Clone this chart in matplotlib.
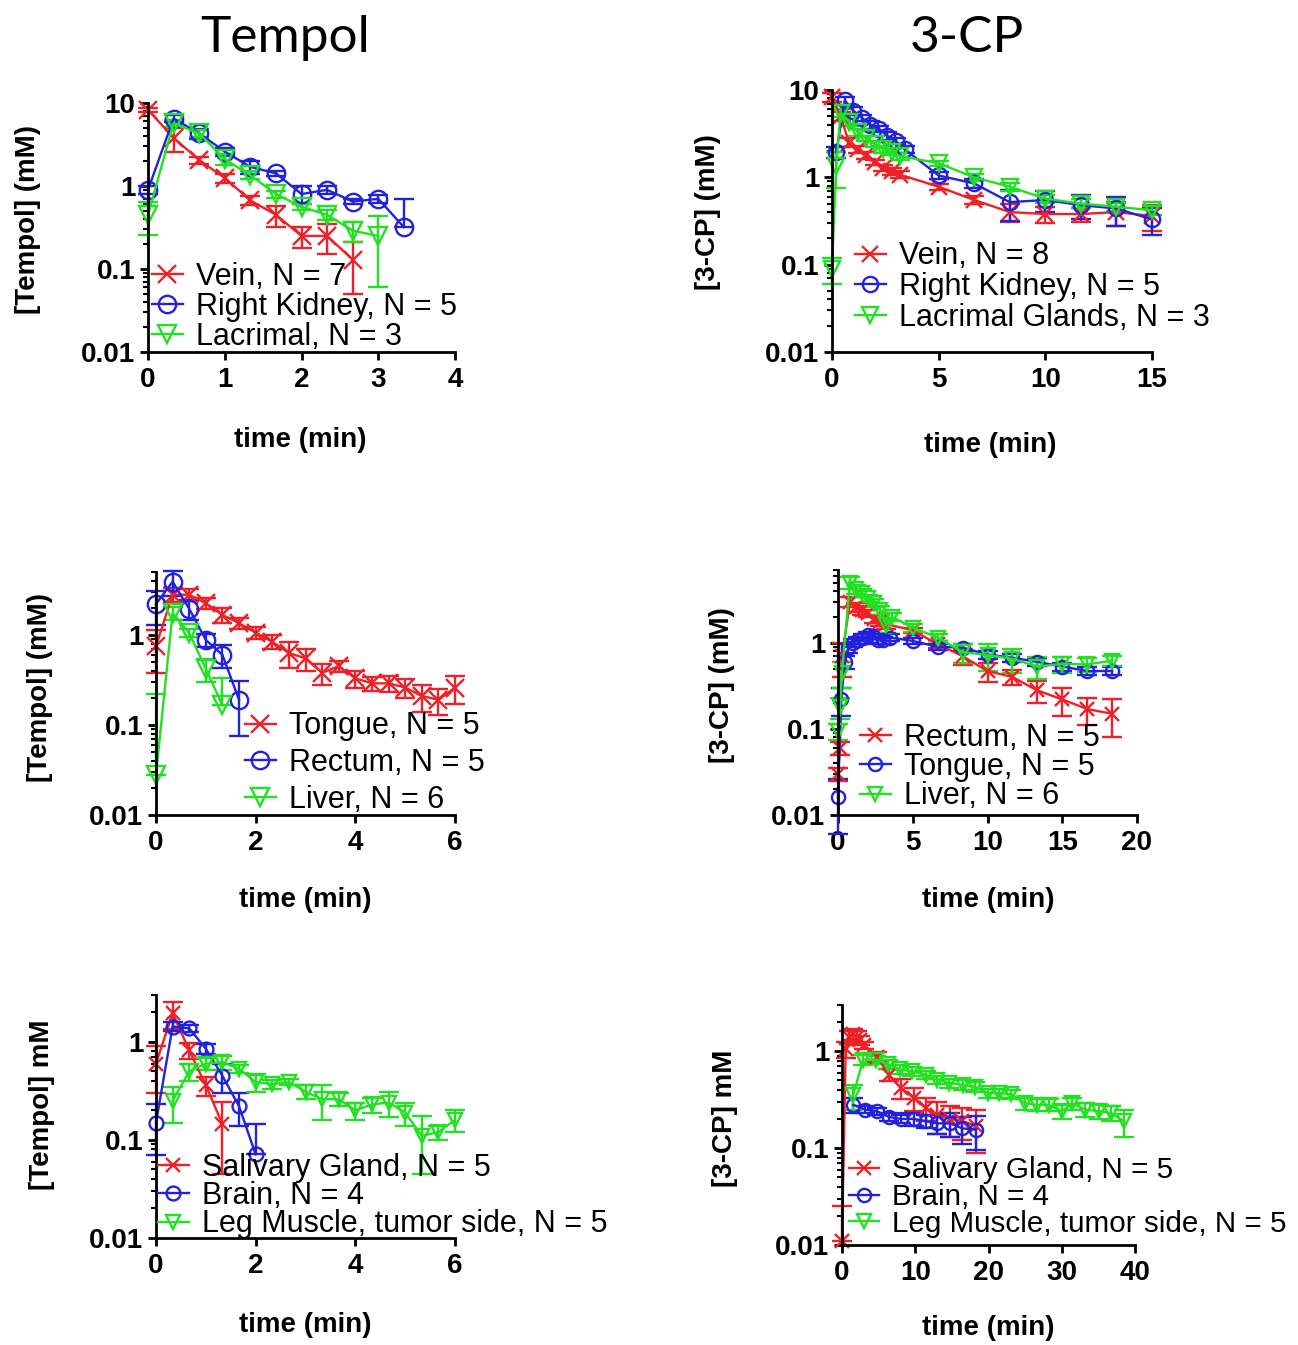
import matplotlib
matplotlib.use('Agg')
import matplotlib.pyplot as plt
import numpy as np
from matplotlib.ticker import FixedLocator, LogLocator, NullFormatter, FuncFormatter

# ---------------- data ----------------
# Tempol, top panel (20 s sampling)
t_tempol_top = [0, 0.333, 0.667, 1.0, 1.333, 1.667, 2.0, 2.333, 2.667, 3.0, 3.333]
vein_tempol = [8.3, 3.8, 2.05, 1.25, 0.67, 0.45, 0.25, 0.25, 0.13]
vein_tempol_sd = [0.5, 1.2, 0.2, 0.15, 0.08, 0.13, 0.07, 0.1, 0.08]
kidney_tempol = [0.9, 6.5, 4.3, 2.6, 1.7, 1.42, 0.8, 0.9, 0.65, 0.7, 0.32]
kidney_tempol_sd = [0.1, 0.6, 0.6, 0.3, 0.3, 0.1, 0.2, 0.1, 0.05, 0.08, 0.37]
lacrimal_tempol = [0.45, 5.7, 4.3, 2.1, 1.35, 0.8, 0.56, 0.45, 0.29, 0.25]
lacrimal_tempol_sd = [0.19, 0.5, 0.4, 0.3, 0.15, 0.08, 0.05, 0.06, 0.08, 0.19]

# 3-CP, top panel
t_vein_3cp = [0, 0.4, 0.8, 1.2, 1.6, 2.0, 2.4, 2.8, 3.2, 5, 6.67, 8.33, 10, 11.67, 13.33, 15]
vein_3cp = [8.3, 5.0, 2.5, 2.1, 1.78, 1.5, 1.28, 1.17, 1.07, 0.78, 0.55, 0.4, 0.38, 0.38, 0.4, 0.36]
vein_3cp_sd = [1.0, 0.6, 0.3, 0.2, 0.15, 0.1, 0.1, 0.1, 0.1, 0.06, 0.06, 0.09, 0.08, 0.07, 0.12, 0.12]
t_kidney_3cp = [0.2, 0.6, 1.0, 1.4, 1.8, 2.2, 2.6, 3.0, 3.4, 5, 6.67, 8.33, 10, 11.67, 13.33, 15]
kidney_3cp = [1.95, 7.6, 5.8, 4.8, 4.0, 3.6, 3.0, 2.6, 2.1, 1.05, 0.85, 0.52, 0.55, 0.48, 0.44, 0.33]
kidney_3cp_sd = [0.3, 0.8, 0.6, 0.4, 0.4, 0.3, 0.3, 0.2, 0.2, 0.1, 0.1, 0.2, 0.15, 0.15, 0.16, 0.11]
t_lacrimal_3cp = [0, 0.2, 0.4, 0.8, 1.2, 1.6, 2.0, 2.4, 2.8, 3.2, 5, 6.67, 8.33, 10, 11.67, 13.33, 15]
lacrimal_3cp = [0.09, 1.35, 5.5, 4.3, 3.3, 2.8, 2.4, 2.1, 1.95, 1.75, 1.45, 1.0, 0.78, 0.57, 0.5, 0.46, 0.42]
lacrimal_3cp_sd = [0.03, 0.6, 0.6, 0.4, 0.3, 0.2, 0.2, 0.2, 0.15, 0.15, 0.1, 0.1, 0.08, 0.06, 0.06, 0.05, 0.05]

# Tempol, middle panel
t_tempol_mid = [0, 0.333, 0.667, 1.0, 1.333, 1.667, 2.0, 2.333, 2.667, 3.0, 3.333,
                3.667, 4.0, 4.333, 4.667, 5.0, 5.333, 5.667, 6.0]
tongue_tempol = [0.75, 2.8, 2.8, 2.25, 1.67, 1.35, 1.06, 0.84, 0.63, 0.55, 0.38,
                 0.45, 0.33, 0.29, 0.29, 0.26, 0.21, 0.19, 0.26]
tongue_tempol_sd = [0.37, 0.5, 0.4, 0.3, 0.3, 0.2, 0.15, 0.15, 0.2, 0.15, 0.1,
                    0.06, 0.07, 0.05, 0.06, 0.06, 0.07, 0.06, 0.09]
rectum_tempol = [2.2, 3.9, 1.95, 0.88, 0.6, 0.19]
rectum_tempol_sd = [0.9, 1.2, 0.5, 0.15, 0.17, 0.115]
liver_tempol = [0.028, 1.75, 1.05, 0.42, 0.165]
liver_tempol_sd = [0.19, 0.3, 0.1, 0.12, 0.17]

# 3-CP, middle panel
t_rectum_3cp = [0, 0.13, 0.27, 0.8, 1.2, 1.6, 2.0, 2.4, 2.8, 3.2, 5, 6.67, 8.33, 10,
                11.67, 13.33, 15, 16.67, 18.33]
rectum_3cp = [0.03, 0.06, 0.7, 3.0, 2.6, 2.4, 2.2, 1.9, 1.75, 1.65, 1.4, 0.96, 0.7, 0.47,
              0.4, 0.28, 0.22, 0.17, 0.15]
rectum_3cp_sd = [0.005, 0.01, 0.3, 0.4, 0.3, 0.3, 0.2, 0.2, 0.2, 0.2, 0.1, 0.1, 0.15, 0.12,
                 0.08, 0.08, 0.08, 0.06, 0.07]
t_tongue_3cp = [0, 0.2, 0.47, 0.7, 1.0, 1.35, 1.7, 2.0, 2.35, 2.7, 3.0, 3.5, 5, 6.67,
                8.33, 10, 11.67, 13.33, 15, 16.67, 18.33]
tongue_3cp = [0.016, 0.22, 0.6, 0.87, 1.0, 1.08, 1.15, 1.22, 1.2, 1.08, 1.08, 1.15, 1.05,
              0.9, 0.88, 0.73, 0.67, 0.6, 0.53, 0.47, 0.47]
tongue_3cp_sd = [0.01, 0.08, 0.1, 0.1, 0.1, 0.1, 0.1, 0.1, 0.1, 0.1, 0.1, 0.1, 0.08,
                 0.08, 0.08, 0.08, 0.07, 0.06, 0.06, 0.05, 0.05]
t_liver_3cp = [0, 0.13, 0.27, 0.8, 1.2, 1.6, 2.0, 2.4, 2.8, 3.2, 3.6, 5, 6.67, 8.33, 10,
               11.67, 13.33, 15, 16.67, 18.33]
liver_3cp = [0.095, 0.18, 0.45, 5.0, 4.2, 3.8, 3.3, 2.9, 2.4, 1.6, 2.0, 1.5, 1.15, 0.78,
             0.72, 0.65, 0.53, 0.57, 0.56, 0.62]
liver_3cp_sd = [0.02, 0.05, 0.15, 0.8, 0.5, 0.4, 0.3, 0.3, 0.3, 0.3, 0.2, 0.15, 0.1, 0.2,
                0.25, 0.2, 0.15, 0.12, 0.1, 0.08]

# Tempol, bottom panel
t_tempol_bot = [0, 0.333, 0.667, 1.0, 1.333, 1.667, 2.0]
t_leg_tempol = [0.333, 0.667, 1.0, 1.333, 1.667, 2.0, 2.333, 2.667, 3.0, 3.333, 3.667,
                4.0, 4.333, 4.667, 5.0, 5.333, 5.667, 6.0]
saliv_tempol = [0.6, 1.95, 0.82, 0.36, 0.145]
saliv_tempol_sd = [0.3, 0.6, 0.15, 0.08, 0.1]
brain_tempol = [0.15, 1.43, 1.37, 0.85, 0.45, 0.22, 0.071]
brain_tempol_sd = [0.08, 0.15, 0.1, 0.1, 0.15, 0.08, 0.075]
leg_tempol = [0.25, 0.5, 0.6, 0.62, 0.53, 0.39, 0.37, 0.39, 0.31, 0.26, 0.26, 0.2, 0.23,
              0.24, 0.19, 0.11, 0.12, 0.16]
leg_tempol_sd = [0.1, 0.1, 0.08, 0.1, 0.05, 0.08, 0.04, 0.03, 0.05, 0.1, 0.04, 0.04, 0.04,
                 0.07, 0.05, 0.065, 0.02, 0.04]

# 3-CP, bottom panel
t_saliv_3cp = [0, 0.5, 1.0, 1.5, 2.0, 2.5, 3.0, 4.8, 6.4, 8.0, 9.8, 11.4, 13.0, 14.8, 16.4, 18.3]
saliv_3cp = [0.011, 1.05, 1.4, 1.5, 1.4, 1.3, 1.15, 0.88, 0.57, 0.42, 0.33, 0.26, 0.22, 0.2,
             0.19, 0.17]
saliv_3cp_sd = [0.014, 0.2, 0.2, 0.2, 0.2, 0.15, 0.1, 0.1, 0.08, 0.1, 0.09, 0.07, 0.08, 0.07,
                0.07, 0.08]
t_brain_3cp = [1.5, 3.2, 4.8, 6.4, 8.0, 9.8, 11.4, 13.0, 14.8, 16.4, 18.3]
brain_3cp = [0.28, 0.25, 0.24, 0.21, 0.2, 0.2, 0.19, 0.18, 0.18, 0.16, 0.155]
brain_3cp_sd = [0.05, 0.02, 0.02, 0.02, 0.02, 0.03, 0.03, 0.04, 0.05, 0.05, 0.06]
t_leg_3cp = [1.5, 2.9, 4.7, 6.3, 7.9, 9.6, 11.4, 13.0, 14.6, 16.5, 18.1, 19.9, 21.5, 23.1,
             25.0, 26.6, 28.2, 30.0, 31.4, 33.2, 35.1, 36.7, 38.5]
leg_3cp = [0.35, 0.82, 0.82, 0.73, 0.65, 0.62, 0.57, 0.51, 0.47, 0.45, 0.43, 0.37, 0.37,
           0.36, 0.29, 0.28, 0.28, 0.24, 0.29, 0.25, 0.24, 0.23, 0.19]
leg_3cp_sd = [0.1, 0.1, 0.08, 0.08, 0.07, 0.06, 0.05, 0.05, 0.05, 0.05, 0.05, 0.04, 0.04,
              0.04, 0.04, 0.04, 0.04, 0.04, 0.04, 0.04, 0.04, 0.04, 0.06]

RED, BLUE, GREEN = '#ee2028', '#2222dd', '#22e022'

W, H = 1298, 1345
plt.rcParams['font.family'] = 'Liberation Sans'
plt.rcParams['font.weight'] = 'bold'
fig = plt.figure(figsize=(W / 100, H / 100), dpi=100)


def rect(l, r, t, b):
    return [l / W, 1 - b / H, (r - l) / W, (b - t) / H]


def to_ax(box, x, y):
    l, r, t, b = box
    return (x - l) / (r - l), (b - y) / (b - t)


def panel(box, series, xmax, xticks, ytop, ylabel, xlab_px, ylab_px, leg_px, lspace, ms,
          legsize=22):
    ax = fig.add_axes(rect(*box))
    handles = []
    for label, t, y, sd, color, marker in series:
        t, y, sd = np.array(t[:len(y)]), np.array(y), np.array(sd)
        low = np.where(y - sd > 0, sd, 0)
        eb = ax.errorbar(t, y, yerr=[low, sd], color=color, marker=marker, ms=ms,
                         mfc='none', mew=1.7, lw=1.7, elinewidth=1.7,
                         capsize=7, capthick=1.7)
        for art in [eb[0], *eb[1], *eb[2]]:
            art.set_clip_on(False)
        handles.append((eb[0], label))
    ax.set_yscale('log')
    ax.set_ylim(0.01, ytop)
    ax.set_xlim(0, xmax)
    ax.yaxis.set_major_locator(FixedLocator([v for v in (0.01, 0.1, 1, 10) if v <= ytop]))
    ax.yaxis.set_major_formatter(FuncFormatter(lambda v, p: '%g' % v))
    ax.yaxis.set_minor_locator(LogLocator(base=10, subs=np.arange(2, 10)))
    ax.yaxis.set_minor_formatter(NullFormatter())
    ax.xaxis.set_major_locator(FixedLocator(xticks))
    ax.xaxis.set_major_formatter(FuncFormatter(lambda v, p: '%g' % v))
    for s in ('top', 'right'):
        ax.spines[s].set_visible(False)
    for s in ('left', 'bottom'):
        ax.spines[s].set_linewidth(2)
    ax.tick_params(which='major', direction='out', length=6, width=2, labelsize=20)
    ax.tick_params(axis='y', which='major', pad=3)
    ax.tick_params(axis='x', which='major', pad=5)
    ax.tick_params(which='minor', direction='out', length=3.5, width=1.5)
    ax.set_xlabel('time (min)', fontsize=20, fontweight='bold', va='center', ha='center')
    ax.xaxis.set_label_coords(*to_ax(box, *xlab_px))
    ax.set_ylabel(ylabel, fontsize=20, fontweight='bold', va='center', ha='center')
    ax.yaxis.set_label_coords(*to_ax(box, *ylab_px))
    ax.legend([h for h, _ in handles], [l for _, l in handles], loc='center left',
              bbox_to_anchor=to_ax(box, *leg_px), frameon=False, borderpad=0,
              borderaxespad=0, handlelength=1.0, handletextpad=0.45,
              labelspacing=lspace, prop={'weight': 'normal', 'size': legsize})
    return ax


panel((148, 455, 103, 352),
      [('Vein, N = 7', t_tempol_top, vein_tempol, vein_tempol_sd, RED, 'x'),
       ('Right Kidney, N = 5', t_tempol_top, kidney_tempol, kidney_tempol_sd, BLUE, 'o'),
       ('Lacrimal, N = 3', t_tempol_top, lacrimal_tempol, lacrimal_tempol_sd, GREEN, 'v')],
      4, [0, 1, 2, 3, 4], 10, '[Tempol] (mM)', (300, 440), (28, 220), (152, 307), 0.0, 12.5)

panel((832, 1152, 90, 352),
      [('Vein, N = 8', t_vein_3cp, vein_3cp, vein_3cp_sd, RED, 'x'),
       ('Right Kidney, N = 5', t_kidney_3cp, kidney_3cp, kidney_3cp_sd, BLUE, 'o'),
       ('Lacrimal Glands, N = 3', t_lacrimal_3cp, lacrimal_3cp, lacrimal_3cp_sd, GREEN, 'v')],
      15, [0, 5, 10, 15], 10, '[3-CP] (mM)', (990, 445), (708, 212), (855, 287), 0.02, 11)

panel((156, 455, 572, 815),
      [('Tongue, N = 5', t_tempol_mid, tongue_tempol, tongue_tempol_sd, RED, 'x'),
       ('Rectum, N = 5', t_tempol_mid, rectum_tempol, rectum_tempol_sd, BLUE, 'o'),
       ('Liver, N = 6', t_tempol_mid, liver_tempol, liver_tempol_sd, GREEN, 'v')],
      6, [0, 2, 4, 6], 5, '[Tempol] (mM)', (305, 900), (40, 688), (245, 763), 0.22, 12.5)

panel((838, 1137, 570, 815),
      [('Rectum, N = 5', t_rectum_3cp, rectum_3cp, rectum_3cp_sd, RED, 'x'),
       ('Tongue, N = 5', t_tongue_3cp, tongue_3cp, tongue_3cp_sd, BLUE, 'o'),
       ('Liver, N = 6', t_liver_3cp, liver_3cp, liver_3cp_sd, GREEN, 'v')],
      20, [0, 5, 10, 15, 20], 7, '[3-CP] (mM)', (988, 900), (722, 685), (860, 767), -0.02, 9.5)

panel((156, 455, 995, 1238),
      [('Salivary Gland, N = 5', t_tempol_bot, saliv_tempol, saliv_tempol_sd, RED, 'x'),
       ('Brain, N = 4', t_tempol_bot, brain_tempol, brain_tempol_sd, BLUE, 'o'),
       ('Leg Muscle, tumor side, N = 5', t_leg_tempol, leg_tempol, leg_tempol_sd, GREEN, 'v')],
      6, [0, 2, 4, 6], 3, '[Tempol] mM', (305, 1325), (42, 1105), (158, 1196), -0.05, 10)

panel((842, 1135, 1005, 1245),
      [('Salivary Gland, N = 5', t_saliv_3cp, saliv_3cp, saliv_3cp_sd, RED, 'x'),
       ('Brain, N = 4', t_brain_3cp, brain_3cp, brain_3cp_sd, BLUE, 'o'),
       ('Leg Muscle, tumor side, N = 5', t_leg_3cp, leg_3cp, leg_3cp_sd, GREEN, 'v')],
      40, [0, 10, 20, 30, 40], 3, '[3-CP] mM', (988, 1328), (725, 1118), (849, 1197), -0.04, 9.5,
      legsize=21.3)

fig.text(285 / W, 1 - 38 / H, 'Tempol', fontsize=37, fontweight='normal', family='Lato',
         ha='center', va='center')
fig.text(967 / W, 1 - 38 / H, '3-CP', fontsize=37, fontweight='normal', family='Lato',
         ha='center', va='center')

fig.savefig('out.png', dpi=100, facecolor='white')
